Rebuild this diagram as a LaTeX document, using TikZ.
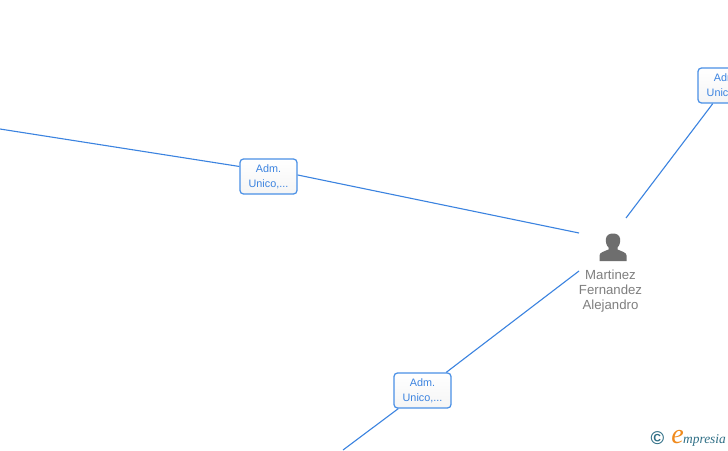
\documentclass[tikz,border=0pt]{standalone}
\usepackage{fontspec}
\setmainfont{Liberation Sans}
\newfontfamily\logofont{Liberation Serif}
\definecolor{linkblue}{HTML}{3B83E0}
\definecolor{boxblue}{HTML}{4A90E6}
\definecolor{namegray}{HTML}{7F7F7F}
\definecolor{icongray}{HTML}{6E6E6E}
\definecolor{logoteal}{HTML}{2F6F86}
\definecolor{logoorange}{HTML}{F08A1D}
\tikzset{
  link/.style={draw=linkblue,line width=1.1pt},
  rolebox/.style={draw=boxblue,line width=1.25pt,rounded corners=3.5pt,top color=white,bottom color=white!96!black,
    minimum width=57pt,minimum height=35pt,inner sep=0pt,align=center,
    text=linkblue,font=\fontsize{10.8pt}{15pt}\selectfont},
  personname/.style={align=center,text=namegray,inner sep=0pt,
    font=\fontsize{13.2pt}{15pt}\selectfont}
}
\begin{document}
\begin{tikzpicture}[x=1pt,y=-1pt]
\useasboundingbox (0,0) rectangle (728,450);
\clip (0,0) rectangle (728,450);
\fill[white] (0,0) rectangle (728,450);
\coordinate (c1) at (0,129);
\coordinate (c2) at (343,450);
\coordinate (p1) at (579,233);
\coordinate (p2) at (579,271);
\coordinate (p3) at (626,218);
\node[rolebox] (b1) at (268.5,176.5) {\raisebox{-1.2pt}{Adm.}\\\raisebox{-1.2pt}{Unico,...}};
\node[rolebox] (b2) at (422.5,390.5) {\raisebox{-1.2pt}{Adm.}\\\raisebox{-1.2pt}{Unico,...}};
\node[rolebox] (b3) at (726.5,85.5) {\raisebox{-1.2pt}{Adm.}\\\raisebox{-1.2pt}{Unico,...}};
\node[personname] (person) at (610.5,291.5) {Martinez\\Fernandez\\Alejandro};
\draw[link] (c1) -- (b1.161.6);
\draw[link] (b1.3) -- (p1);
\draw[link] (c2) -- (b2);
\draw[link] (b2) -- (p2);
\draw[link] (p3) -- (b3);
% person icon
\fill[icongray] (599.5,261) -- (599.5,255.5)
  .. controls (599.5,252.5) and (604,251.5) .. (608.5,249.5)
  -- (608.5,247.5)
  .. controls (606,245) and (605.5,241) .. (606,238.5)
  .. controls (606.5,235) and (609.5,233.5) .. (613,233.5)
  .. controls (616.5,233.5) and (619.5,235) .. (620,238.5)
  .. controls (620.5,241) and (620,245) .. (617.5,247.5)
  -- (617.5,249.5)
  .. controls (622,251.5) and (626.5,252.5) .. (626.5,255.5)
  -- (626.5,261) -- cycle;
% logo
\node[inner sep=0pt,text=logoteal,font=\bfseries\fontsize{18.5pt}{18pt}\selectfont] (copy) at (657.5,438.5) {©};
\node[inner sep=0pt,text=logoorange,font=\logofont\itshape\fontsize{28pt}{28pt}\selectfont] (loge) at (677.5,437.5) {e};
\node[inner sep=0pt,anchor=west,text=logoteal,font=\logofont\itshape\fontsize{13.4pt}{14pt}\selectfont] (logt) at (683,440) {mpresia};
\end{tikzpicture}
\end{document}
